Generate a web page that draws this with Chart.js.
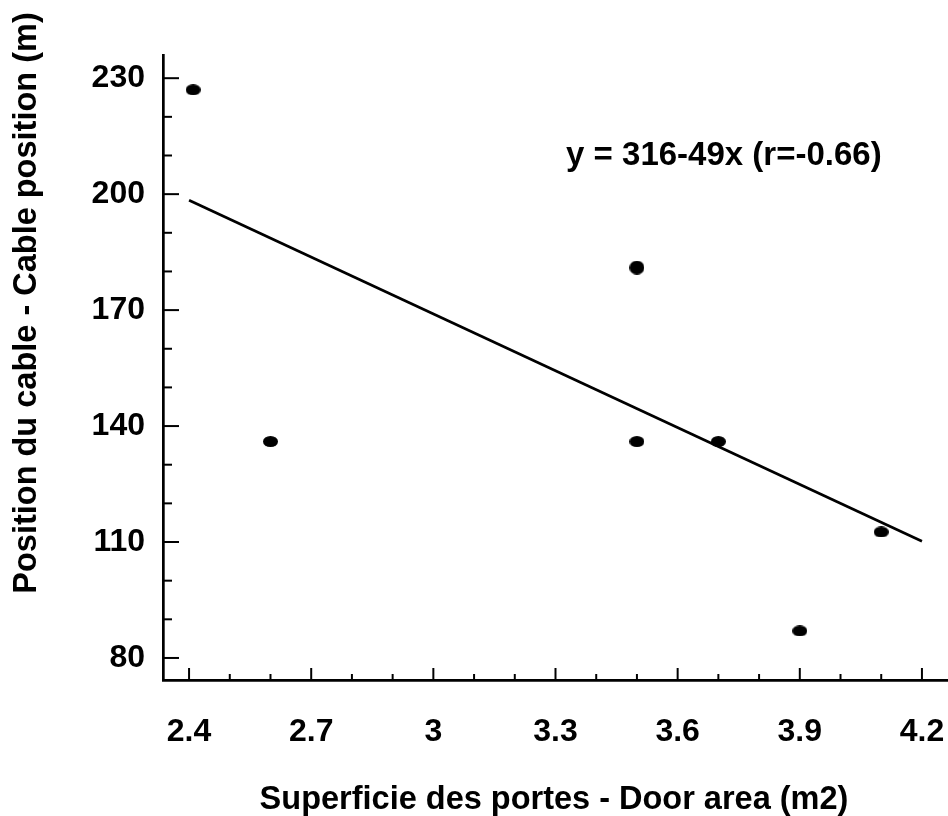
<!DOCTYPE html>
<html><head><meta charset="utf-8">
<script src="https://cdn.jsdelivr.net/npm/chart.js@4.4.1/dist/chart.umd.min.js"></script>
<style>html,body{margin:0;padding:0;background:#fff;overflow:hidden}#wrap{width:948px;height:816px}</style>
</head><body><div id="wrap"><canvas id="c" width="948" height="816"></canvas></div>
<script>
// ---- data ----
const areaX  = [2.41, 2.6, 3.5, 3.5, 3.7, 3.9, 4.1];
const cableY = [227, 136, 181, 136, 136, 87, 112.6];
const fitX = [2.4, 4.2];
const fitY = [198.4, 110.2];           // y = 316 - 49x
const xTickValues = [2.4, 2.7, 3.0, 3.3, 3.6, 3.9, 4.2];
const xTickLabels = ['2.4', '2.7', '3', '3.3', '3.6', '3.9', '4.2'];
const yTickValues = [80, 110, 140, 170, 200, 230];
const yTickLabels = ['80', '110', '140', '170', '200', '230'];
const xMinorStep = 0.1;
const yMinorStep = 10;
const equationText = 'y = 316-49x (r=-0.66)';
const equationAt = {x: 3.326, y: 207.5};
const xTitle = 'Superficie des portes - Door area (m2)';
const yTitle = 'Position du cable - Cable position (m)';

const FONT = '"Liberation Sans", Arial, Helvetica, sans-serif';

function ellipseCanvas(w, h) {
  const cv = document.createElement('canvas');
  cv.width = w; cv.height = h;
  const g = cv.getContext('2d');
  g.fillStyle = '#000';
  g.beginPath();
  g.ellipse(w / 2, h / 2, w / 2, h / 2, 0, 0, Math.PI * 2);
  g.fill();
  return cv;
}
const dotFlat = ellipseCanvas(15, 11);
const dotRound = ellipseCanvas(15, 14);
const pointStyles = cableY.map(v => v > 170 && v < 200 ? dotRound : dotFlat);

const inwardTicks = {
  id: 'inwardTicks',
  beforeDatasetsDraw(chart) {
    const ctx = chart.ctx;
    const xs = chart.scales.x, ys = chart.scales.y;
    const area = chart.chartArea;
    ctx.save();
    ctx.strokeStyle = '#000';
    ctx.lineWidth = 2;
    // x ticks
    for (let k = 0; ; k++) {
      const v = +(xTickValues[0] + (k - 1) * xMinorStep).toFixed(4);
      if (v > xs.max) break;
      if (v < xs.min) continue;
      const major = xTickValues.some(t => Math.abs(t - v) < 1e-6);
      const px = xs.getPixelForValue(v);
      ctx.beginPath();
      ctx.moveTo(px, area.bottom);
      ctx.lineTo(px, area.bottom - (major ? 12 : 6));
      ctx.stroke();
    }
    // y ticks
    for (let k = 0; ; k++) {
      const v = yTickValues[0] + (k - 1) * yMinorStep;
      if (v > ys.max) break;
      if (v < ys.min) continue;
      const major = yTickValues.includes(v);
      const py = ys.getPixelForValue(v);
      ctx.beginPath();
      ctx.moveTo(area.left, py);
      ctx.lineTo(area.left + (major ? 16 : 9), py);
      ctx.stroke();
    }
    // texts
    ctx.fillStyle = '#000';
    ctx.font = 'bold 33px ' + FONT;
    ctx.textBaseline = 'alphabetic';
    ctx.textAlign = 'left';
    ctx.fillText(equationText, xs.getPixelForValue(equationAt.x), ys.getPixelForValue(equationAt.y));
    ctx.font = 'bold 32.5px ' + FONT;
    ctx.textAlign = 'center';
    ctx.fillText(xTitle, 554, 809);
    ctx.translate(36, 303);
    ctx.rotate(-Math.PI / 2);
    ctx.fillText(yTitle, 0, 0);
    ctx.restore();
  }
};

new Chart(document.getElementById('c'), {
  type: 'scatter',
  data: {
    datasets: [
      {
        type: 'line',
        data: fitX.map((x, i) => ({x, y: fitY[i]})),
        borderColor: '#000',
        borderWidth: 2.7,
        pointRadius: 0,
        fill: false,
        order: 2
      },
      {
        data: areaX.map((x, i) => ({x, y: cableY[i]})),
        pointStyle: pointStyles,
        pointRadius: 7,
        backgroundColor: '#000',
        borderColor: '#000',
        order: 1
      }
    ]
  },
  options: {
    responsive: false,
    animation: false,
    devicePixelRatio: 1,
    layout: {autoPadding: false, padding: {top: 55, left: 0, right: 0, bottom: 0}},
    plugins: {legend: {display: false}, tooltip: {enabled: false}},
    scales: {
      x: {
        type: 'linear',
        min: 2.336,
        max: 4.264,
        afterBuildTicks: s => { s.ticks = xTickValues.map(v => ({value: v})); },
        afterFit: s => { s.height = 136; s.paddingLeft = 0; s.paddingRight = 0; },
        ticks: {
          color: '#000',
          font: {family: FONT, size: 32, weight: 'bold'},
          padding: 33,
          autoSkip: false,
          maxRotation: 0,
          callback: (v, i) => xTickLabels[i]
        },
        grid: {drawOnChartArea: false, drawTicks: false, color: 'rgba(0,0,0,0)'},
        border: {display: true, color: '#000', width: 2.7}
      },
      y: {
        type: 'linear',
        min: 74.3,
        max: 236,
        afterBuildTicks: s => { s.ticks = yTickValues.map(v => ({value: v})); },
        afterFit: s => { s.width = 163; s.paddingTop = 0; s.paddingBottom = 0; },
        ticks: {
          color: '#000',
          font: {family: FONT, size: 32, weight: 'bold'},
          padding: 18,
          autoSkip: false,
          callback: (v, i) => yTickLabels[i]
        },
        grid: {drawOnChartArea: false, drawTicks: false, color: 'rgba(0,0,0,0)'},
        border: {display: true, color: '#000', width: 2.7}
      }
    }
  },
  plugins: [inwardTicks]
});
</script>
</body></html>
